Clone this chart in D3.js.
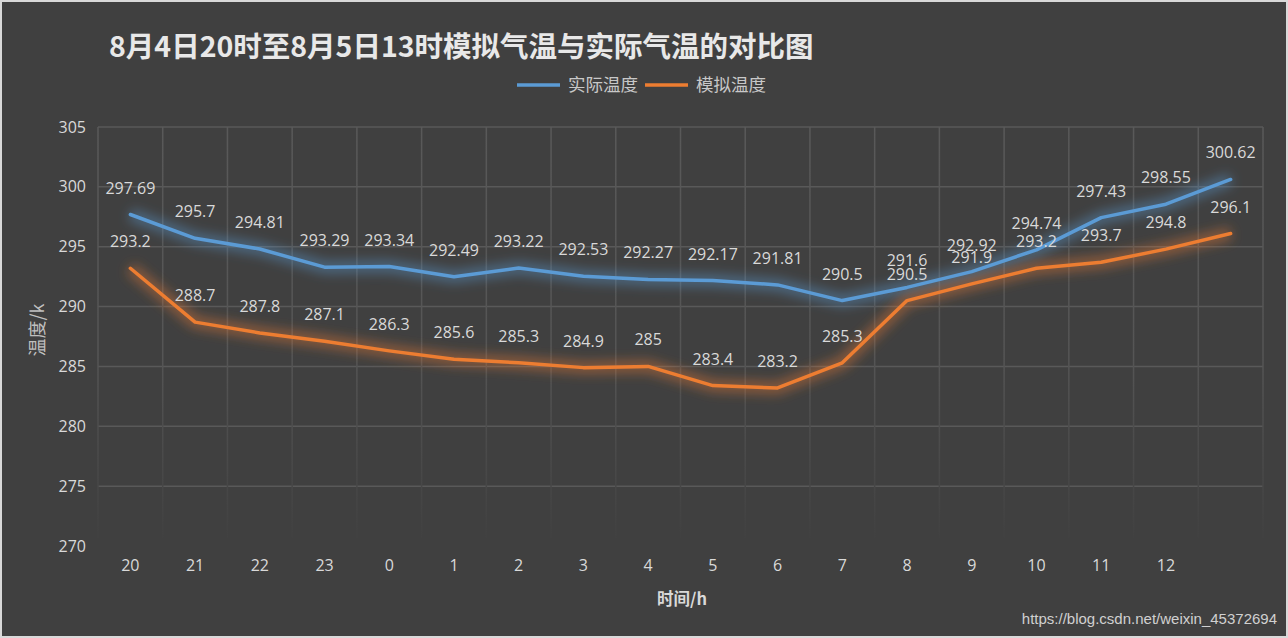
<!DOCTYPE html>
<html><head><meta charset="utf-8">
<script src="https://cdn.jsdelivr.net/npm/d3@7"></script>
<style>
html,body{margin:0;padding:0;background:#d9d9d9;}
svg{display:block;}
</style></head>
<body>
<svg id="chart" width="1288" height="638"></svg>
<script>
const title = "8月4日20时至8月5日13时模拟气温与实际气温的对比图";
const categories = ["20","21","22","23","0","1","2","3","4","5","6","7","8","9","10","11","12","13"];
const tickLabels = ["20","21","22","23","0","1","2","3","4","5","6","7","8","9","10","11","12"];
const actual = [297.69,295.7,294.81,293.29,293.34,292.49,293.22,292.53,292.27,292.17,291.81,290.5,291.6,292.92,294.74,297.43,298.55,300.62];
const simulated = [293.2,288.7,287.8,287.1,286.3,285.6,285.3,284.9,285,283.4,283.2,285.3,290.5,291.9,293.2,293.7,294.8,296.1];
const yTicks = [270,275,280,285,290,295,300,305];
const seriesNames = ["实际温度","模拟温度"];
const colors = ["#5b9bd5","#ed7d31"];

const W = 1288, H = 638;
const svg = d3.select("#chart");
const m = {left:98, right:1263, top:127, bottom:546};
const txt = "#d9d9d9";
const font = "'Open Sans','Noto Sans','Noto Sans CJK SC',sans-serif";

svg.append("rect").attr("x",2).attr("y",2).attr("width",W-4).attr("height",H-4).attr("fill","#404040");

const defs = svg.append("defs");
const grad = defs.append("linearGradient").attr("id","vfade").attr("gradientUnits","userSpaceOnUse")
  .attr("x1",0).attr("y1",m.top).attr("x2",0).attr("y2",m.bottom);
grad.append("stop").attr("offset","0%").attr("stop-color","#595959");
grad.append("stop").attr("offset","55%").attr("stop-color","#555555");
grad.append("stop").attr("offset","100%").attr("stop-color","#404040");
const glow = defs.append("filter").attr("id","glow").attr("x","-10%").attr("y","-30%").attr("width","120%").attr("height","160%");
glow.append("feGaussianBlur").attr("stdDeviation",6);

const x = d3.scaleBand().domain(categories).range([m.left,m.right]);
const y = d3.scaleLinear().domain([270,305]).range([m.bottom,m.top]);

// horizontal grid
svg.append("g").selectAll("line").data(yTicks.filter(t=>t>270)).join("line")
  .attr("x1",m.left).attr("x2",m.right).attr("y1",d=>y(d)).attr("y2",d=>y(d))
  .attr("stroke","#595959").attr("stroke-width",1.5);
// vertical grid
const bounds = categories.map(c=>x(c)).concat([m.right]);
svg.append("g").selectAll("line").data(bounds).join("line")
  .attr("x1",d=>d).attr("x2",d=>d).attr("y1",m.top).attr("y2",m.bottom-8)
  .attr("stroke","url(#vfade)").attr("stroke-width",1.5);

// y axis labels
const yAxis = d3.axisLeft(y).tickValues(yTicks).tickSize(0).tickPadding(12);
const gy = svg.append("g").attr("transform",`translate(${m.left},0)`).call(yAxis);
gy.select(".domain").remove();
gy.selectAll("text").attr("fill",txt).style("font-family",font).style("font-size","16px");

// x axis labels
const xAxis = d3.axisBottom(x).tickSize(0).tickPadding(14).tickFormat((d,i)=>tickLabels[i] ?? "");
const gx = svg.append("g").attr("transform",`translate(0,${m.bottom})`).call(xAxis);
gx.select(".domain").remove();
gx.selectAll("text").attr("fill",txt).style("font-family",font).style("font-size","16px");

// lines
const line = d3.line().x((d,i)=>x(categories[i])+x.bandwidth()/2).y(d=>y(d));
[actual,simulated].forEach((s,k)=>{
  svg.append("path").datum(s).attr("d",line).attr("fill","none").attr("stroke",colors[k])
    .attr("stroke-width",12).attr("stroke-opacity",0.45).attr("stroke-linejoin","round").attr("filter","url(#glow)");
});
[actual,simulated].forEach((s,k)=>{
  svg.append("path").datum(s).attr("d",line).attr("fill","none").attr("stroke",colors[k])
    .attr("stroke-width",3.5).attr("stroke-linejoin","round").attr("stroke-linecap","round");
});
// data labels
[actual,simulated].forEach((s,k)=>{
  svg.append("g").selectAll("text").data(s).join("text")
    .attr("x",(d,i)=>x(categories[i])+x.bandwidth()/2)
    .attr("y",d=>y(d)-21)
    .attr("text-anchor","middle").attr("fill",txt)
    .style("font-family",font).style("font-size","16px")
    .text(d=>d);
});

// title
svg.append("text").attr("x",109).attr("y",57).attr("fill","#e8e8e8")
  .style("font-family","'Noto Sans CJK SC',sans-serif").style("font-size","28.5px").style("font-weight","bold")
  .text(title);

// legend
const lg = svg.append("g");
const legendX = [517, 645];
seriesNames.forEach((n,k)=>{
  lg.append("line").attr("x1",legendX[k]).attr("x2",legendX[k]+43).attr("y1",85).attr("y2",85)
    .attr("stroke",colors[k]).attr("stroke-width",3.5);
  lg.append("text").attr("x",legendX[k]+51).attr("y",91).attr("fill","#c8c8c8")
    .style("font-family","'Noto Sans CJK SC',sans-serif").style("font-size","17.5px").text(n);
});

// axis titles
svg.append("text").attr("x",682).attr("y",605).attr("text-anchor","middle").attr("fill",txt)
  .style("font-family","'Noto Sans CJK SC',sans-serif").style("font-size","16.5px").style("font-weight","bold").text("时间/h");
svg.append("text").attr("transform","translate(44,330) rotate(-90)").attr("text-anchor","middle").attr("fill","#bfbfbf")
  .style("font-family","'Noto Sans CJK SC',sans-serif").style("font-size","18px").text("温度/k");

// watermark
svg.append("text").attr("x",1277).attr("y",624).attr("text-anchor","end").attr("fill","#d0d0d0")
  .style("font-family","'Liberation Sans',Arial,sans-serif").style("font-size","15px").text("https://blog.csdn.net/weixin_45372694");
</script>
</body></html>
